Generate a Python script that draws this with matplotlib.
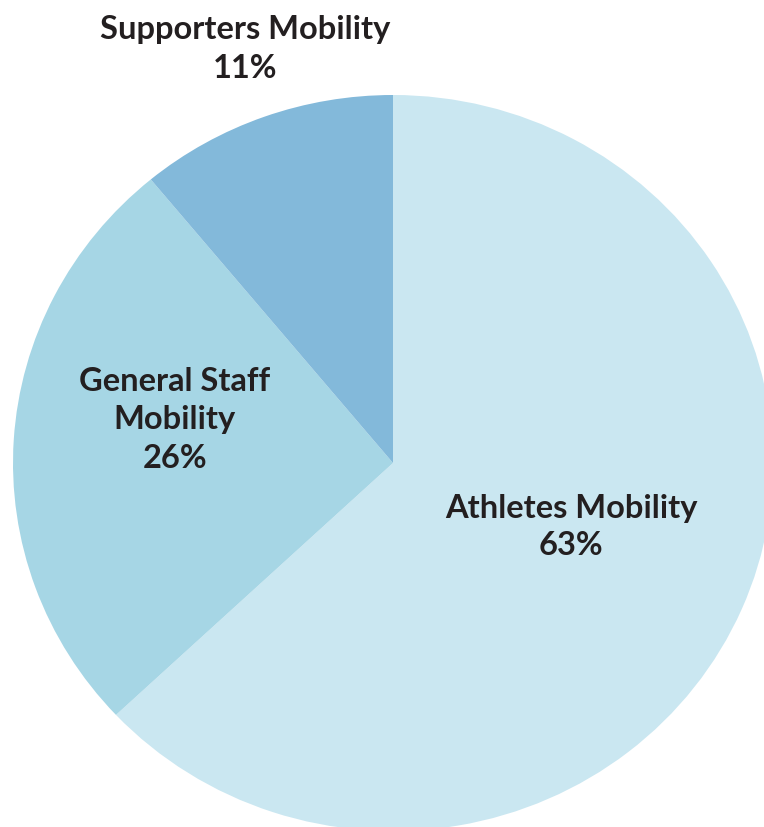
import matplotlib
matplotlib.use("Agg")
import matplotlib.pyplot as plt

categories = ["Athletes Mobility", "General Staff\nMobility", "Supporters Mobility"]
values = [63, 26, 11]
colors = ["#CAE7F1", "#A6D6E5", "#83B9DA"]

fig = plt.figure(figsize=(7.64, 8.27), dpi=100)
ax = fig.add_axes([0, 0, 1, 1])
ax.pie(values, colors=colors, startangle=90, counterclock=False, radius=1.0,
       wedgeprops=dict(linewidth=0))
ax.set_aspect('auto')
ax.set_xlim(-393 / 380, (764 - 393) / 380)
ax.set_ylim((463 - 827) / 368, 463 / 368)
ax.axis('off')

def px(x, y):
    return ((x - 393) / 380, (463 - y) / 368)

labels_pos = [(571, 527, 1.36), (175, 420, 1.38), (245, 49, 1.45)]
for cat, v, (x, y, ls) in zip(categories, values, labels_pos):
    ax.text(*px(x, y), f"{cat}\n{v}%", family="Lato", fontweight="bold",
            fontsize=23.5, color="#231F20", ha="center", va="center",
            linespacing=ls)

fig.savefig("out.png", dpi=100)
